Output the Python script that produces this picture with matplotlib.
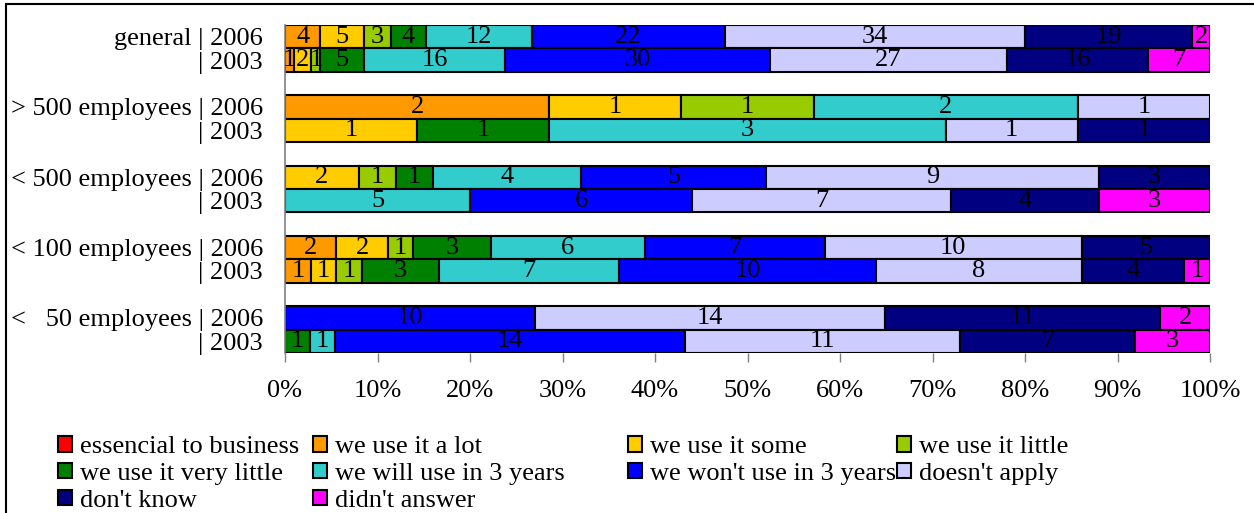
import matplotlib.pyplot as plt
from matplotlib.patches import Patch, Rectangle

plt.rcParams['font.family'] = ['Liberation Serif', 'DejaVu Serif']

# answer categories, in stacking order
categories = ["essencial to business", "we use it a lot", "we use it some",
              "we use it little", "we use it very little", "we will use in 3 years",
              "we won't use in 3 years", "doesn't apply", "don't know", "didn't answer"]
colors = ["#FF0000", "#FF9900", "#FFCC00", "#99CC00", "#008000",
          "#33CCCC", "#0000FF", "#CCCCFF", "#000080", "#FF00FF"]

groups = ["general", "> 500 employees", "< 500 employees",
          "< 100 employees", "<   50 employees"]
years = ["2006", "2003"]

# answer counts per group and survey year
general_2006 = [0, 4, 5, 3, 4, 12, 22, 34, 19, 2]
general_2003 = [0, 1, 2, 1, 5, 16, 30, 27, 16, 7]
over500_2006 = [0, 2, 1, 1, 0, 2, 0, 1, 0, 0]
over500_2003 = [0, 0, 1, 0, 1, 3, 0, 1, 1, 0]
under500_2006 = [0, 0, 2, 1, 1, 4, 5, 9, 3, 0]
under500_2003 = [0, 0, 0, 0, 0, 5, 6, 7, 4, 3]
under100_2006 = [0, 2, 2, 1, 3, 6, 7, 10, 5, 0]
under100_2003 = [0, 1, 1, 1, 3, 7, 10, 8, 4, 1]
under50_2006 = [0, 0, 0, 0, 0, 0, 10, 14, 11, 2]
under50_2003 = [0, 0, 0, 0, 1, 1, 14, 11, 7, 3]

rows = [general_2006, general_2003, over500_2006, over500_2003,
        under500_2006, under500_2003, under100_2006, under100_2003,
        under50_2006, under50_2003]

FS = 19

fig = plt.figure(figsize=(12.54, 5.13), dpi=100)
ax = fig.add_axes([285 / 1254, 1 - 353 / 513, 925 / 1254, 328 / 513])

ypos = []
ylabels = []
for g, name in enumerate(groups):
    for k, yr in enumerate(years):
        ypos.append(3 * g + k)
        ylabels.append(f"{name} | {yr}" if k == 0 else f"| {yr}")

for row, y in zip(rows, ypos):
    total = sum(row)
    left = 0.0
    for val, col in zip(row, colors):
        if val == 0:
            continue
        w = val / total * 100
        ax.barh(y, w, left=left, height=1.0, color=col,
                edgecolor="black", linewidth=1.5)
        ax.text(left + w / 2, y, str(val), ha="center", va="center",
                fontsize=FS, color="black")
        left += w

ax.set_xlim(0, 100)
ax.set_ylim(13.5, -0.5)
ax.set_xticks(range(0, 101, 10))
ax.set_xticklabels([f"{t}%" for t in range(0, 101, 10)], fontsize=FS)
ax.set_yticks(ypos)
ax.set_yticklabels(ylabels, fontsize=FS)
ax.tick_params(axis="y", length=0, pad=16)
ax.tick_params(axis="x", length=6.5, width=1, color="gray", pad=13)
for s in ["top", "right", "bottom"]:
    ax.spines[s].set_visible(False)
ax.spines["left"].set_color("gray")
ax.spines["left"].set_linewidth(1.2)

# legend laid out in four columns, filled row by row
handles = [Patch(facecolor=c, edgecolor="black", linewidth=1.5) for c in colors]
columns = [[0, 4, 8], [1, 5, 9], [2, 6], [3, 7]]
col_x = [58, 313, 628, 897]
for idx, x in zip(columns, col_x):
    fig.legend([handles[i] for i in idx], [categories[i] for i in idx],
               loc="upper left", bbox_to_anchor=(x / 1254, 1 - 436 / 513),
               frameon=False, fontsize=FS, borderpad=0, borderaxespad=0,
               handlelength=0.53, handleheight=0.53, handletextpad=0.3,
               labelspacing=0.18)

fig.add_artist(Rectangle((6 / 1254, -0.05), 1.1, 1.05 - 4 / 513,
                         transform=fig.transFigure, fill=False,
                         edgecolor="black", linewidth=1.5))

fig.savefig("out.png", dpi=100)
